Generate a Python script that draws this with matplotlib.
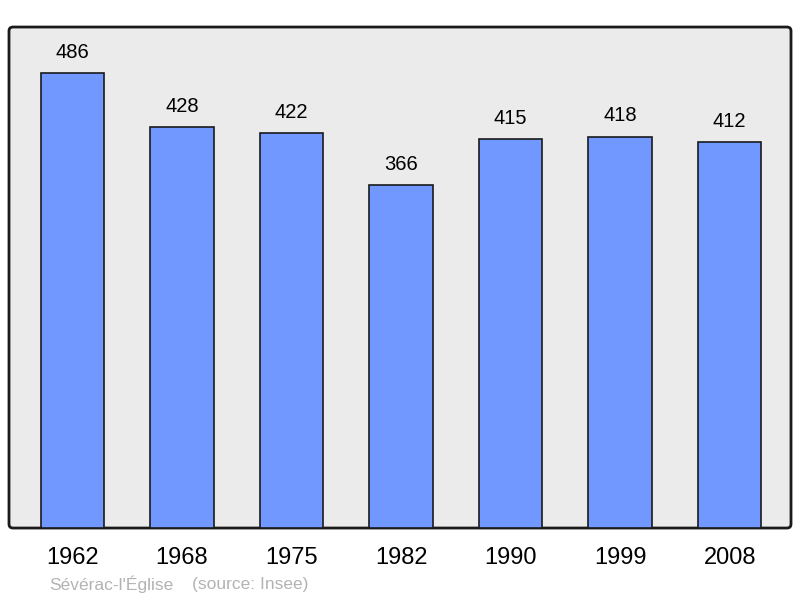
import matplotlib
matplotlib.use('Agg')
import matplotlib.pyplot as plt
from matplotlib.patches import FancyBboxPatch

years = ['1962', '1968', '1975', '1982', '1990', '1999', '2008']
population = [486, 428, 422, 366, 415, 418, 412]
commune = "Sévérac-l'Église"
source = '(source: Insee)'

plt.rcParams['font.family'] = ['Liberation Sans', 'DejaVu Sans']

fig = plt.figure(figsize=(8, 5.98), dpi=100)
ax = fig.add_axes([0.01125, 0.117, 0.9775, 0.8378])
ax.set_facecolor('none')

# rounded frame behind the bars
frame = FancyBboxPatch((0.01125, 0.117), 0.9775, 0.8378,
                       boxstyle='round,pad=0,rounding_size=0.005',
                       mutation_aspect=800 / 598,
                       transform=fig.transFigure, facecolor='#ebebeb',
                       edgecolor='#1a1a1a', linewidth=2, zorder=0,
                       clip_on=False)
ax.add_patch(frame)

x = range(len(years))
ax.bar(x, population, width=0.58, color='#7098ff', edgecolor='#1a1a1a',
       linewidth=1.2, zorder=2)
for i, v in zip(x, population):
    ax.annotate(str(v), (i, v), xytext=(0, 11), textcoords='offset points',
                ha='center', va='baseline', fontsize=14.5, color='black')

ax.set_xlim(-0.58, 6.56)
ax.set_ylim(0, 535)
for s in ax.spines.values():
    s.set_visible(False)
ax.set_yticks([])
ax.set_xticks(list(x))
ax.set_xticklabels(years, fontsize=17)
ax.tick_params(axis='x', length=0, pad=14)

fig.text(49 / 800, 1 - 584 / 598, commune, fontsize=12.5, color='#b3b3b3',
         ha='left', va='center')
fig.text(192 / 800, 1 - 584 / 598, source, fontsize=12.5, color='#b3b3b3',
         ha='left', va='center')

fig.savefig('out.png', dpi=100)
